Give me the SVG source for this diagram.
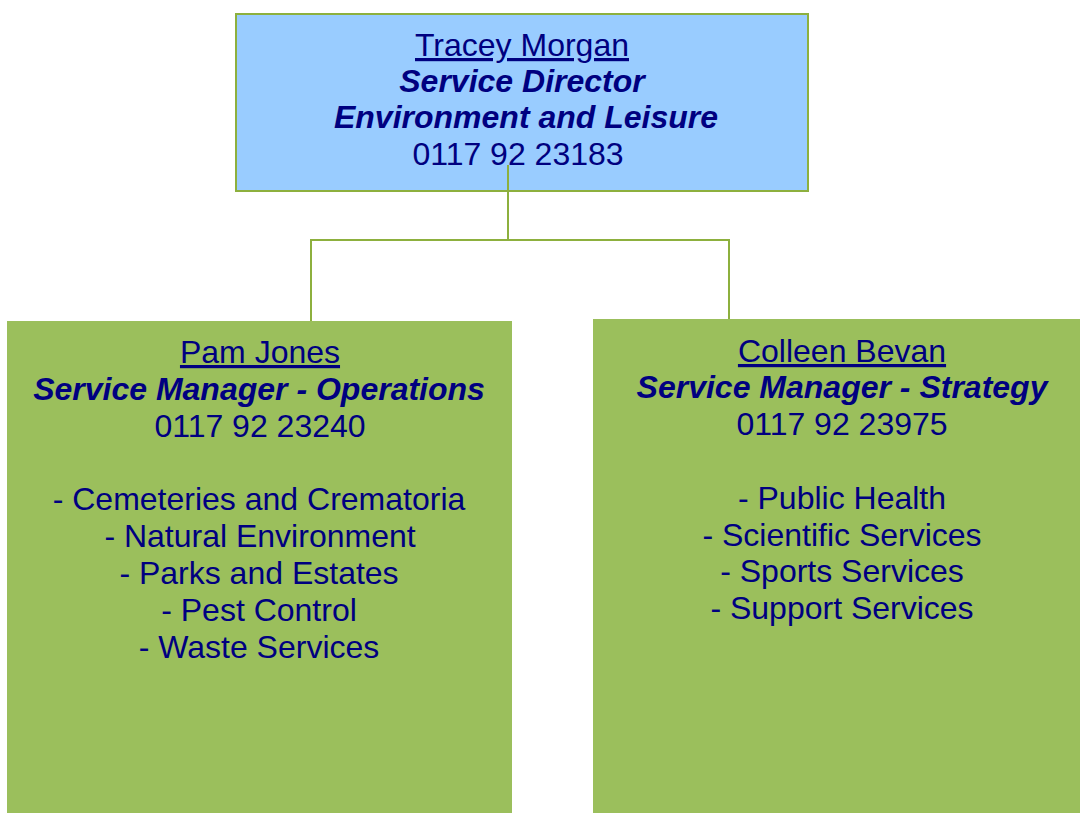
<svg xmlns="http://www.w3.org/2000/svg" width="1080" height="813" viewBox="0 0 1080 813">
<style>
text{font-family:"Liberation Sans",Arial,sans-serif;font-size:32px;fill:#000080;text-anchor:middle}
.u{text-decoration:underline}
.b{font-weight:bold;font-style:italic}
.ln{fill:none;stroke:#8DB03E;stroke-width:2}
</style>
<rect width="1080" height="813" fill="#fff"/>
<g id="node-tracey">
<rect x="236" y="14" width="572" height="177" fill="#99CCFF" stroke="#8DB03E" stroke-width="2"/>
<text x="522" y="56" class="u">Tracey Morgan</text>
<text x="522" y="92" class="b">Service Director</text>
<text x="526" y="128" class="b">Environment and Leisure</text>
<text x="518" y="165">0117 92 23183</text>
</g>
<g id="connectors">
<path class="ln" d="M508 165V240M311 321V240H729V319"/>
</g>
<g id="node-pam">
<rect x="7" y="321" width="505" height="492" fill="#9BBF5C"/>
<text x="260" y="363" class="u">Pam Jones</text>
<text x="259" y="400" class="b">Service Manager - Operations</text>
<text x="260" y="437">0117 92 23240</text>
<text x="259" y="510">- Cemeteries and Crematoria</text>
<text x="260" y="547">- Natural Environment</text>
<text x="259" y="584">- Parks and Estates</text>
<text x="259" y="621">- Pest Control</text>
<text x="259" y="658">- Waste Services</text>
</g>
<g id="node-colleen">
<rect x="593" y="319" width="487" height="494" fill="#9BBF5C"/>
<text x="842" y="362" class="u">Colleen Bevan</text>
<text x="842" y="398" class="b">Service Manager - Strategy</text>
<text x="842" y="435">0117 92 23975</text>
<text x="842" y="509">- Public Health</text>
<text x="842" y="546">- Scientific Services</text>
<text x="842" y="582">- Sports Services</text>
<text x="842" y="619">- Support Services</text>
</g>
</svg>
